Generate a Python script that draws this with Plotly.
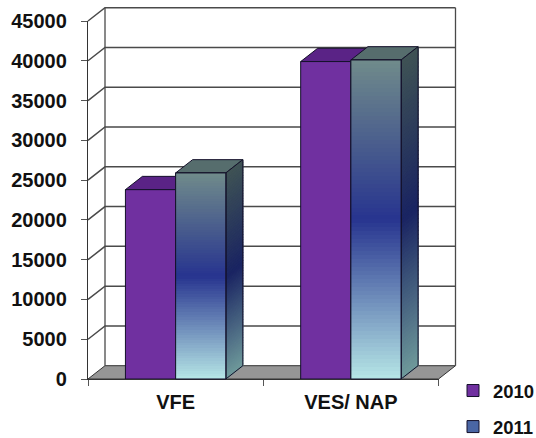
import plotly.graph_objects as go

# ---- data ----
categories = ["VFE", "VES/ NAP"]
series_names = ["2010", "2011"]
values_2010 = [23800, 39900]
values_2011 = [25900, 40100]
y_ticks = [0, 5000, 10000, 15000, 20000, 25000, 30000, 35000, 40000, 45000]

# ---- page geometry (pixels) ----
W, H = 536, 438
PX_LEFT, PX_RIGHT = 88.0, 438.5
PX_ZERO, PX_TOP = 379.0, 21.0
PX_DX, PX_DY = 17.0, 13.3
Y_MAX = 45000
px_per_cat = (PX_RIGHT - PX_LEFT) / 2
px_per_val = (PX_ZERO - PX_TOP) / Y_MAX
DX = PX_DX / px_per_cat
DY = PX_DY / px_per_val
BAR_W = 50.2 / px_per_cat
x_left = -0.5
x_right = 1.5

FULL_X = [x_left - PX_LEFT / px_per_cat, x_left + (W - PX_LEFT) / px_per_cat]
FULL_Y = [-(H - PX_ZERO) / px_per_val, PX_ZERO / px_per_val]

PURPLE, PURPLE_TOP = "#7030a0", "#5a2386"
TEAL_TOP = "#566d6d"
EDGE = "#14102a"
GRID = "#4a4a4a"
FLOOR = "#969696"
FRONT_STOPS = ["#b6e6e6", "#27348f", "#708b8b"]
SIDE_STOPS = ["#6f9a9b", "#1a2462", "#3f5355"]
SLICES = 80


def hex_rgb(h):
    return [int(h[i:i + 2], 16) for i in (1, 3, 5)]


def ramp(stops, t):
    a, b = (stops[0], stops[1]) if t < 0.5 else (stops[1], stops[2])
    u = t * 2 if t < 0.5 else (t - 0.5) * 2
    ca, cb = hex_rgb(a), hex_rgb(b)
    return "rgb(%d,%d,%d)" % tuple(round(p + (q - p) * u) for p, q in zip(ca, cb))


fig = go.Figure()


def poly(xs, ys, fill, line=EDGE, lw=1.0):
    fig.add_trace(go.Scatter(
        x=xs + xs[:1], y=ys + ys[:1], mode="lines", fill="toself", fillcolor=fill,
        line=dict(color=line, width=lw), showlegend=False, hoverinfo="skip",
        xaxis="x", yaxis="y"))


def seg(xs, ys, color=GRID, lw=1.3, axes=("x", "y")):
    fig.add_trace(go.Scatter(
        x=xs, y=ys, mode="lines", line=dict(color=color, width=lw),
        showlegend=False, hoverinfo="skip", xaxis=axes[0], yaxis=axes[1]))


# floor
poly([x_left, x_right, x_right + DX, x_left + DX], [0, 0, DY, DY], FLOOR, line="#333333", lw=1)
# walls and grid
for t in y_ticks:
    if t > 0:
        seg([x_left, x_left + DX, x_right + DX], [t, t + DY, t + DY], GRID, 1.5)
seg([x_left + DX, x_left + DX], [DY, Y_MAX + DY], GRID, 1.3)
seg([x_right + DX, x_right + DX], [DY, Y_MAX + DY], GRID, 1.3)

# tops and sides of the bars
for i in range(len(categories)):
    c = float(i)
    v0, v1 = values_2010[i], values_2011[i]
    poly([c - BAR_W, c, c + DX, c - BAR_W + DX], [v0, v0, v0 + DY, v0 + DY], PURPLE_TOP)
    poly([c, c + BAR_W, c + BAR_W + DX, c + DX], [v1, v1, v1 + DY, v1 + DY], TEAL_TOP)
    r = c + BAR_W
    for k in range(SLICES):
        a, b = v1 * k / SLICES, v1 * (k + 1) / SLICES
        col = ramp(SIDE_STOPS, (k + 0.5) / SLICES)
        poly([r, r + DX, r + DX, r], [a, a + DY, b + DY, b], col, line=col, lw=1.2)
    seg([r, r, r + DX, r + DX, r], [0, v1, v1 + DY, DY, 0], EDGE, 1.0)

# the real bars
gap = 1 - 2 * BAR_W
fig.add_trace(go.Bar(x=categories, y=values_2010, name=series_names[0], legendgroup="a",
                     marker=dict(color=PURPLE, line=dict(color=EDGE, width=1)),
                     xaxis="x2", yaxis="y2", hoverinfo="skip"))
fig.add_trace(go.Bar(x=categories, y=values_2011, name=series_names[1], legendgroup="b",
                     marker=dict(color="#4a66a4", line=dict(color=EDGE, width=1)),
                     xaxis="x2", yaxis="y2", hoverinfo="skip"))

# gradient over the 2011 bars
scale = [[0, FRONT_STOPS[0]], [0.5, FRONT_STOPS[1]], [1, FRONT_STOPS[2]]]
for i in range(len(categories)):
    v1 = values_2011[i]
    fig.add_trace(go.Heatmap(
        x=[i, i + BAR_W], y=[v1 * k / SLICES for k in range(SLICES + 1)],
        z=[[(k + 0.5) / SLICES] for k in range(SLICES)], zmin=0, zmax=1,
        colorscale=scale, showscale=False, hoverinfo="skip", xaxis="x3", yaxis="y3"))
for i in range(len(categories)):
    v1 = values_2011[i]
    l, r = i, i + BAR_W
    seg([l, r, r, l, l], [0, 0, v1, v1, 0], EDGE, 1.0, axes=("x3", "y3"))

hidden = dict(visible=False, fixedrange=True)
tick_font = dict(size=20, family="Liberation Sans, Arial, sans-serif", weight="bold", color="#111111")
fig.update_layout(
    width=W, height=H, margin=dict(l=0, r=0, t=0, b=0, autoexpand=False),
    paper_bgcolor="white", plot_bgcolor="rgba(0,0,0,0)",
    barmode="group", bargap=gap, bargroupgap=0,
    xaxis=dict(domain=[0, 1], range=FULL_X, anchor="y", **hidden),
    yaxis=dict(domain=[0, 1], range=FULL_Y, anchor="x", **hidden),
    xaxis2=dict(domain=[PX_LEFT / W, PX_RIGHT / W], anchor="y2", type="category",
                categoryorder="array", categoryarray=categories, range=[-0.5, 1.5],
                tickson="boundaries", ticks="outside", ticklen=6, tickwidth=1, tickcolor="#555555",
                ticklabelstandoff=5,
                showline=True, linecolor="#333333", linewidth=1.2, showgrid=False, zeroline=False,
                tickfont=tick_font, fixedrange=True),
    yaxis2=dict(domain=[(H - PX_ZERO) / H, (H - PX_TOP) / H], anchor="x2", range=[0, Y_MAX],
                tickvals=y_ticks, ticktext=[str(t) for t in y_ticks], ticks="outside", ticklen=6, tickwidth=1,
                tickcolor="#555555", ticklabelstandoff=10,
                showline=True, linecolor="#333333", linewidth=1.4, showgrid=False, zeroline=False,
                tickfont=tick_font, fixedrange=True),
    xaxis3=dict(domain=[0, 1], range=FULL_X, anchor="y3", **hidden),
    yaxis3=dict(domain=[0, 1], range=FULL_Y, anchor="x3", **hidden),
    showlegend=True,
    legend=dict(x=453 / W, xanchor="left", y=1 - 372 / H, yanchor="top", traceorder="grouped",
                tracegroupgap=9, bgcolor="rgba(0,0,0,0)",
                font=dict(size=18.5, family="Liberation Sans, Arial, sans-serif", weight="bold", color="#111111")),
)
fig.write_html("out.html", config={"displayModeBar": False},
               post_script="document.body.style.margin='0';")
